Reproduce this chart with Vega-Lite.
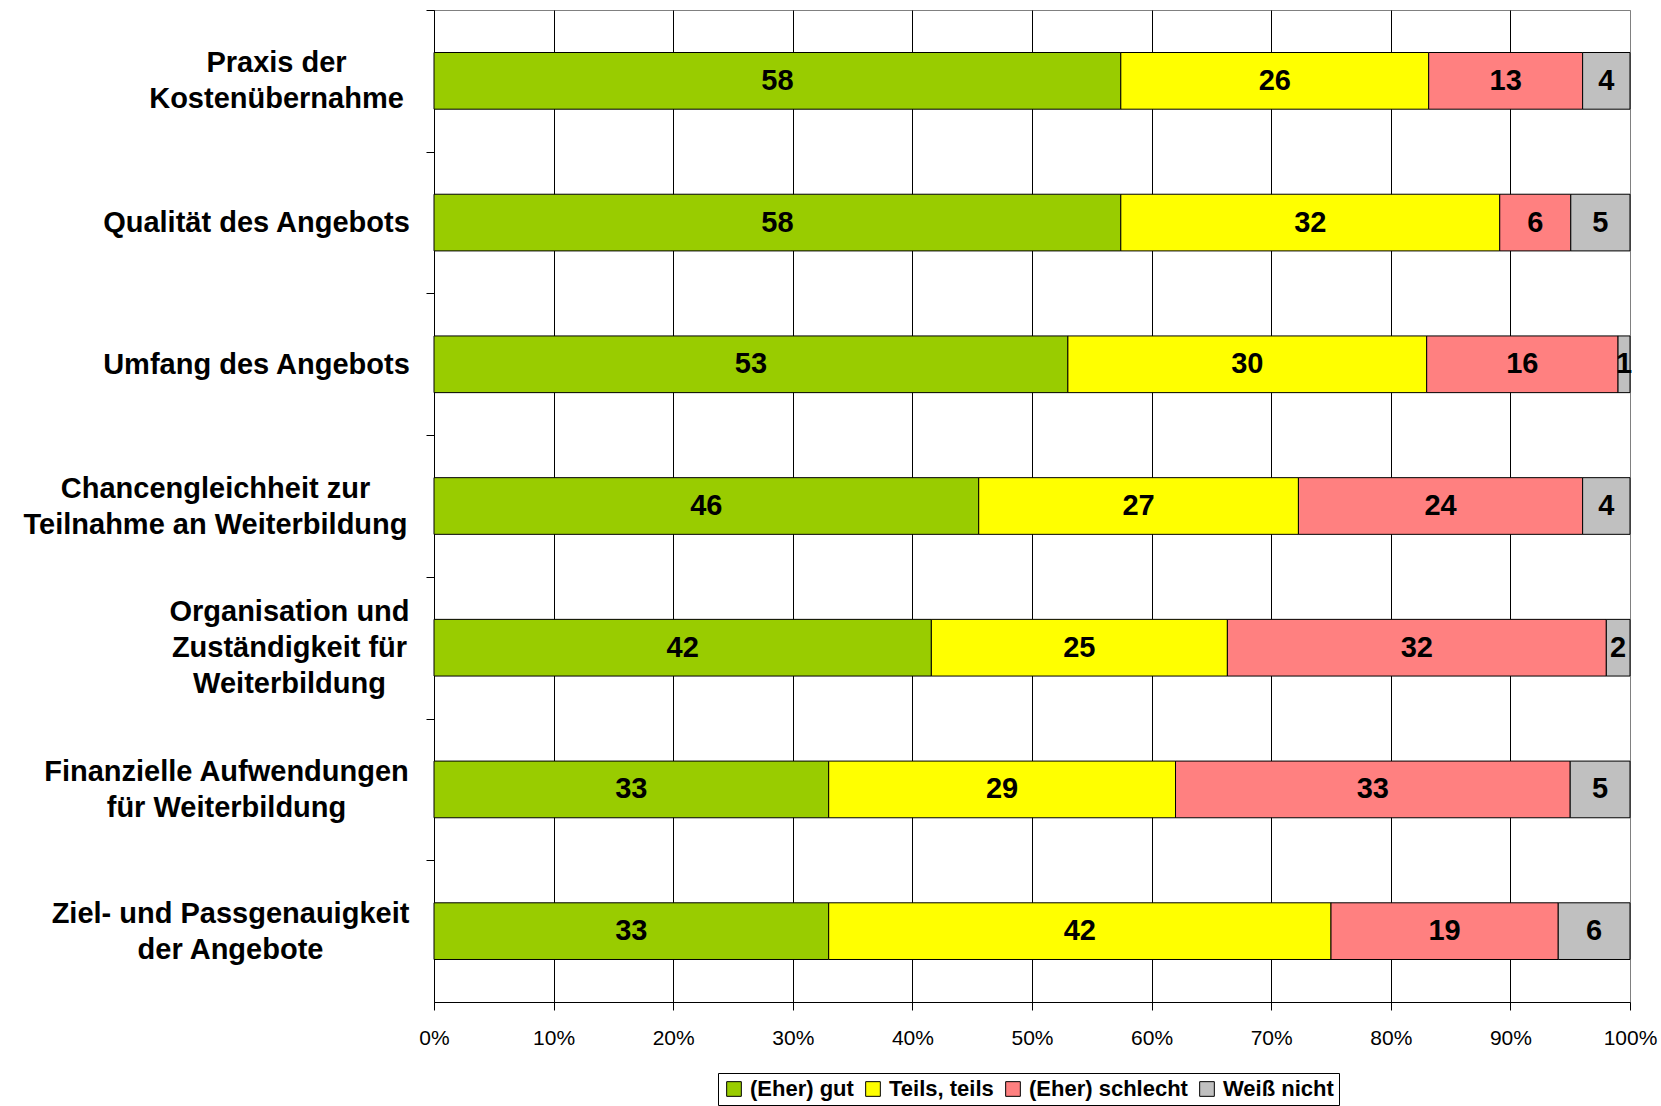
{
  "$schema": "https://vega.github.io/schema/vega-lite/v6.json",
  "width": 1196,
  "height": 992,
  "autosize": "none",
  "padding": {"left": 434, "top": 10, "right": 31, "bottom": 104},
  "background": "white",
  "config": {"view": {"stroke": "#808080", "strokeWidth": 1}, "font": "Liberation Sans"},
  "data": {
    "values": [
      {"category": "Praxis der Kostenübernahme", "rating": "(Eher) gut", "value": 58},
      {"category": "Praxis der Kostenübernahme", "rating": "Teils, teils", "value": 26},
      {"category": "Praxis der Kostenübernahme", "rating": "(Eher) schlecht", "value": 13},
      {"category": "Praxis der Kostenübernahme", "rating": "Weiß nicht", "value": 4},
      {"category": "Qualität des Angebots", "rating": "(Eher) gut", "value": 58},
      {"category": "Qualität des Angebots", "rating": "Teils, teils", "value": 32},
      {"category": "Qualität des Angebots", "rating": "(Eher) schlecht", "value": 6},
      {"category": "Qualität des Angebots", "rating": "Weiß nicht", "value": 5},
      {"category": "Umfang des Angebots", "rating": "(Eher) gut", "value": 53},
      {"category": "Umfang des Angebots", "rating": "Teils, teils", "value": 30},
      {"category": "Umfang des Angebots", "rating": "(Eher) schlecht", "value": 16},
      {"category": "Umfang des Angebots", "rating": "Weiß nicht", "value": 1},
      {"category": "Chancengleichheit zur Teilnahme an Weiterbildung", "rating": "(Eher) gut", "value": 46},
      {"category": "Chancengleichheit zur Teilnahme an Weiterbildung", "rating": "Teils, teils", "value": 27},
      {"category": "Chancengleichheit zur Teilnahme an Weiterbildung", "rating": "(Eher) schlecht", "value": 24},
      {"category": "Chancengleichheit zur Teilnahme an Weiterbildung", "rating": "Weiß nicht", "value": 4},
      {"category": "Organisation und Zuständigkeit für Weiterbildung", "rating": "(Eher) gut", "value": 42},
      {"category": "Organisation und Zuständigkeit für Weiterbildung", "rating": "Teils, teils", "value": 25},
      {"category": "Organisation und Zuständigkeit für Weiterbildung", "rating": "(Eher) schlecht", "value": 32},
      {"category": "Organisation und Zuständigkeit für Weiterbildung", "rating": "Weiß nicht", "value": 2},
      {"category": "Finanzielle Aufwendungen für Weiterbildung", "rating": "(Eher) gut", "value": 33},
      {"category": "Finanzielle Aufwendungen für Weiterbildung", "rating": "Teils, teils", "value": 29},
      {"category": "Finanzielle Aufwendungen für Weiterbildung", "rating": "(Eher) schlecht", "value": 33},
      {"category": "Finanzielle Aufwendungen für Weiterbildung", "rating": "Weiß nicht", "value": 5},
      {"category": "Ziel- und Passgenauigkeit der Angebote", "rating": "(Eher) gut", "value": 33},
      {"category": "Ziel- und Passgenauigkeit der Angebote", "rating": "Teils, teils", "value": 42},
      {"category": "Ziel- und Passgenauigkeit der Angebote", "rating": "(Eher) schlecht", "value": 19},
      {"category": "Ziel- und Passgenauigkeit der Angebote", "rating": "Weiß nicht", "value": 6}
    ]
  },
  "transform": [
    {"calculate": "indexof(['(Eher) gut','Teils, teils','(Eher) schlecht','Weiß nicht'], datum.rating)", "as": "ord"},
    {"stack": "value", "groupby": ["category"], "sort": [{"field": "ord", "order": "ascending"}], "offset": "normalize", "as": ["v0", "v1"]},
    {"calculate": "(datum.v0 + datum.v1) / 2", "as": "mid"}
  ],
  "encoding": {
    "y": {
      "field": "category",
      "type": "nominal",
      "sort": null,
      "scale": {"paddingInner": 0.6, "paddingOuter": 0.3},
      "axis": {
        "title": null,
        "tickSize": 8,
        "tickColor": "black",
        "tickWidth": 1,
        "tickOffset": -70.86,
        "domainColor": "black",
        "domainWidth": 1,
        "labelFont": "Liberation Sans",
        "labelFontSize": 29,
        "labelFontWeight": "bold",
        "labelColor": "black",
        "labelAlign": "center",
        "labelLineHeight": 36,
        "labelLimit": 600,
        "grid": false,
        "labelOffset": {
          "condition": [
            {"test": "datum.value == 'Organisation und Zuständigkeit für Weiterbildung'", "value": 34.86},
            {"test": "datum.value == 'Qualität des Angebots' || datum.value == 'Umfang des Angebots'", "value": 70.86}
          ],
          "value": 52.86
        },
        "labelPadding": {
          "condition": [
            {"test": "datum.value == 'Praxis der Kostenübernahme'", "value": 150},
            {"test": "datum.value == 'Qualität des Angebots'", "value": 170},
            {"test": "datum.value == 'Umfang des Angebots'", "value": 170},
            {"test": "datum.value == 'Chancengleichheit zur Teilnahme an Weiterbildung'", "value": 211},
            {"test": "datum.value == 'Organisation und Zuständigkeit für Weiterbildung'", "value": 137},
            {"test": "datum.value == 'Finanzielle Aufwendungen für Weiterbildung'", "value": 200}
          ],
          "value": 196
        },
        "labelExpr": "datum.label == 'Praxis der Kostenübernahme' ? ['Praxis der', 'Kostenübernahme'] : datum.label == 'Chancengleichheit zur Teilnahme an Weiterbildung' ? ['Chancengleichheit zur', 'Teilnahme an Weiterbildung'] : datum.label == 'Organisation und Zuständigkeit für Weiterbildung' ? ['Organisation und', 'Zuständigkeit für', 'Weiterbildung'] : datum.label == 'Finanzielle Aufwendungen für Weiterbildung' ? ['Finanzielle Aufwendungen', 'für Weiterbildung'] : datum.label == 'Ziel- und Passgenauigkeit der Angebote' ? ['Ziel- und Passgenauigkeit', 'der Angebote'] : datum.label"
      }
    }
  },
  "layer": [
    {
      "mark": {"type": "bar", "stroke": "black", "strokeWidth": 1},
      "encoding": {
        "x": {
          "field": "v0",
          "type": "quantitative",
          "scale": {"domain": [0, 1], "nice": false, "zero": true},
          "axis": {
            "title": null,
            "values": [0, 0.1, 0.2, 0.3, 0.4, 0.5, 0.6, 0.7, 0.8, 0.9, 1],
            "format": ".0%",
            "grid": true,
            "gridColor": {"condition": {"test": "datum.value >= 1", "value": "#808080"}, "value": "black"},
            "gridOpacity": 1,
            "gridWidth": 1,
            "domainColor": "black",
            "tickColor": "black",
            "tickSize": 8,
            "labelFont": "Liberation Sans",
            "labelFontSize": 21,
            "labelColor": "black",
            "labelPadding": 17,
            "labelFlush": false,
            "labelOverlap": false
          }
        },
        "x2": {"field": "v1"},
        "color": {
          "field": "rating",
          "type": "nominal",
          "scale": {
            "domain": ["(Eher) gut", "Teils, teils", "(Eher) schlecht", "Weiß nicht"],
            "range": ["#99CC00", "#FFFF00", "#FF8080", "#C0C0C0"]
          },
          "legend": {
            "orient": "none",
            "legendX": 284,
            "legendY": 1063,
            "direction": "horizontal",
            "title": null,
            "strokeColor": "black",
            "fillColor": "white",
            "padding": 5,
            "symbolType": "square",
            "symbolSize": 215,
            "symbolStrokeColor": "black",
            "symbolStrokeWidth": 1,
            "symbolOpacity": 1,
            "labelFont": "Liberation Sans",
            "labelFontSize": 22,
            "labelFontWeight": "bold",
            "labelColor": "black",
            "labelOffset": 5,
            "columnPadding": 8,
            "labelLimit": 400
          }
        }
      }
    },
    {
      "mark": {"type": "text", "font": "Liberation Sans", "fontWeight": "bold", "fontSize": 29, "color": "black", "baseline": "middle"},
      "encoding": {
        "x": {"field": "mid", "type": "quantitative"},
        "text": {"field": "value", "type": "quantitative"}
      }
    }
  ]
}
